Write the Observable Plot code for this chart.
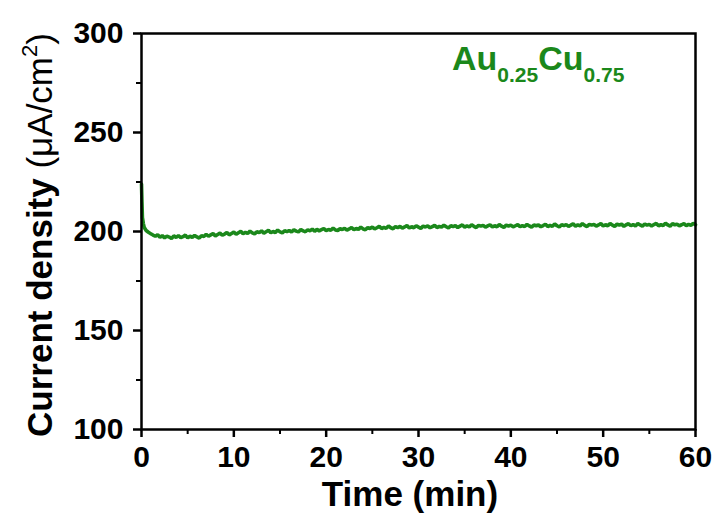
<!DOCTYPE html>
<html><head><meta charset="utf-8">
<script src="https://cdn.jsdelivr.net/npm/d3@7"></script>
<script src="https://cdn.jsdelivr.net/npm/@observablehq/plot@0.6"></script>
<style>body{margin:0;background:#fff} svg{display:block}</style>
</head><body><div id="chart"></div>
<script>
// ---- data ----
const earlyTimes = [0, 0.05, 0.1, 0.2, 0.3, 0.5, 0.75];
const earlyValues = [224, 215, 207, 204, 202, 200.5, 199.6];
const sampleStart = 1;      // min
const sampleStep = 0.25;    // min
const currentValues = [
  198.9,198.2,197.6,198.4,197.1,197.9,196.8,197.7,197.2,196.5,197.8,197.0,
  197.9,196.9,197.4,198.2,196.8,197.6,197.1,198.0,197.3,196.7,197.9,197.5,
  198.6,197.6,198.3,198.9,197.8,198.5,199.2,198.1,198.7,199.5,198.3,199.0,
  199.7,198.6,199.4,200.1,198.9,199.6,199.0,200.2,199.3,198.8,199.9,199.4,
  200.3,199.2,199.9,200.6,199.4,200.0,199.5,200.7,199.8,199.3,200.4,199.9,
  200.5,199.7,200.9,200.2,199.8,201.0,200.3,199.9,200.8,200.4,201.2,200.1,
  201.1,200.3,200.9,201.5,200.4,201.0,200.6,201.7,200.8,200.5,201.4,201.0,
  201.6,200.7,201.3,202.0,200.9,201.5,201.1,202.2,201.3,200.9,201.9,201.5,
  202.2,201.3,201.9,202.6,201.5,202.1,201.6,202.8,201.9,201.4,202.5,202.0,
  202.6,201.7,202.3,203.0,201.8,202.4,201.9,202.9,202.2,201.6,202.7,202.3,
  202.8,201.9,202.5,203.1,202.0,202.6,202.2,203.2,202.4,201.8,202.9,202.5,
  203.0,202.0,202.7,203.3,202.2,202.8,202.3,203.4,202.6,202.0,203.1,202.7,
  203.1,202.2,202.8,203.4,202.3,202.9,202.4,203.5,202.7,202.1,203.2,202.8,
  203.2,202.3,202.9,203.5,202.4,203.0,202.5,203.6,202.8,202.2,203.3,202.9,
  203.3,202.4,203.0,203.7,202.5,203.1,202.6,203.8,202.9,202.3,203.4,203.0,
  203.5,202.6,203.2,203.9,202.7,203.3,202.8,204.0,203.1,202.5,203.6,203.2,
  203.6,202.7,203.3,204.0,202.8,203.4,202.9,204.1,203.2,202.6,203.7,203.3,
  203.7,202.6,203.4,203.9,202.9,203.5,202.8,204.0,203.3,202.7,203.8,203.2,
  203.6,202.8,203.5,204.1,202.9,203.4,203.0,204.2,203.3,202.7,203.9,203.4,
  203.7,202.9,203.4,204.0,203.0,203.6,203.1,204.1,203.4
];
const xTicks = [0, 10, 20, 30, 40, 50, 60];
const xMinorTicks = [5, 15, 25, 35, 45, 55];
const yTicks = [100, 150, 200, 250, 300];
const yMinorTicks = [125, 175, 225, 275];
const xTitle = "Time (min)";
const yTitleMain = "Current density ";
const yTitleUnit = "(\u03bcA/cm";
const seriesLabel = [["Au", false], ["0.25", true], ["Cu", false], ["0.75", true]];

// ---- build table ----
const data = earlyTimes.map((t, i) => ({t, j: earlyValues[i]}))
  .concat(currentValues.map((v, i) => ({t: sampleStart + i * sampleStep, j: v})));

const green = "#1b881b";
const font = "'Liberation Sans', Arial, sans-serif";

const plot = Plot.plot({
  width: 718, height: 520,
  marginLeft: 141, marginRight: 23, marginTop: 33, marginBottom: 91,
  x: {domain: [0, 60], label: null},
  y: {domain: [100, 300], label: null},
  style: {fontFamily: font, fontWeight: "bold", fontSize: "30px", color: "#000", background: "#fff", overflow: "visible"},
  marks: [
    Plot.line(data, {x: "t", y: "j", stroke: green, strokeWidth: 3.6, strokeLinejoin: "miter"}),
    Plot.frame({stroke: "#000", strokeWidth: 2.5}),
    Plot.axisX(xTicks, {tickSize: 8, tickPadding: 8, strokeWidth: 2.5, fontSize: 30, fontWeight: "bold", label: null}),
    Plot.axisX(xMinorTicks, {tickSize: 5, strokeWidth: 2, tickFormat: () => "", label: null}),
    Plot.axisY(yTicks, {tickSize: 8, tickPadding: 10, strokeWidth: 2.5, fontSize: 30, fontWeight: "bold", label: null}),
    Plot.axisY(yMinorTicks, {tickSize: 5, strokeWidth: 2, tickFormat: () => "", label: null})
  ]
});
document.getElementById("chart").appendChild(plot);

const svg = d3.select(plot);
svg.append("text")
  .attr("x", 410).attr("y", 506)
  .attr("text-anchor", "middle")
  .style("font-family", font).style("font-weight", "bold").style("font-size", "35px")
  .attr("fill", "#000")
  .text(xTitle);

const yt = svg.append("text")
  .attr("transform", "translate(52,235) rotate(-90)")
  .attr("text-anchor", "middle")
  .style("font-family", font).style("font-size", "35px")
  .attr("fill", "#000");
yt.append("tspan").style("font-weight", "bold").text(yTitleMain);
yt.append("tspan").style("font-weight", "normal").text(yTitleUnit);
yt.append("tspan").style("font-weight", "normal").style("font-size", "22px").attr("dy", -15).text("2");
yt.append("tspan").style("font-weight", "normal").attr("dy", 15).text(")");

const lt = svg.append("text")
  .attr("x", 452).attr("y", 70)
  .attr("text-anchor", "start")
  .style("font-family", font).style("font-weight", "bold")
  .attr("fill", green);
seriesLabel.forEach(([s, sub], i) => {
  lt.append("tspan")
    .style("font-size", sub ? "21px" : "34px")
    .attr("dy", i === 0 ? 0 : (sub ? 12 : -12))
    .text(s);
});
</script>
</body></html>
